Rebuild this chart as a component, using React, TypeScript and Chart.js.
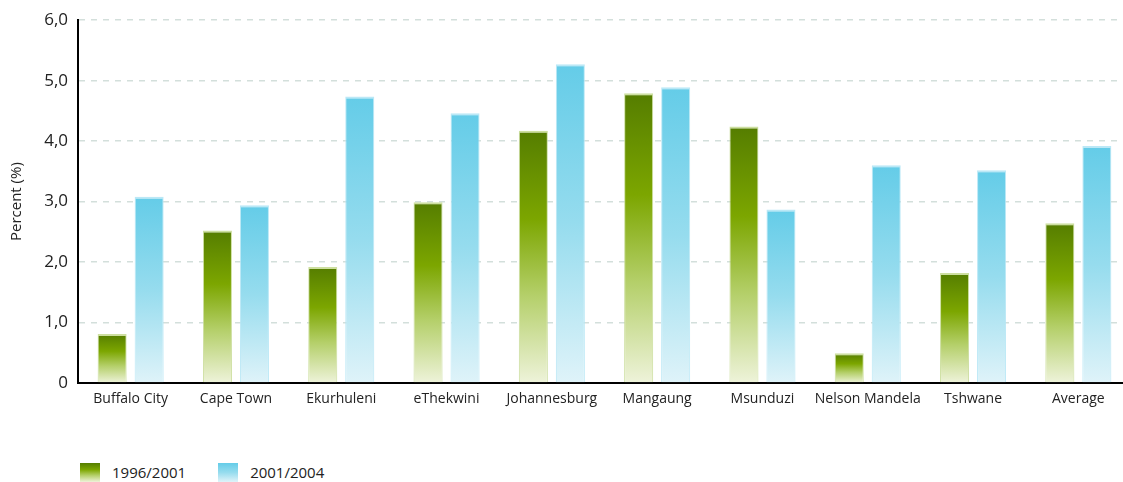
import React, { useEffect, useRef } from "react";
import { Chart, registerables } from "chart.js";

Chart.register(...registerables);

const categories = [
  "Buffalo City",
  "Cape Town",
  "Ekurhuleni",
  "eThekwini",
  "Johannesburg",
  "Mangaung",
  "Msunduzi",
  "Nelson Mandela",
  "Tshwane",
  "Average",
];
const series1996 = [0.81, 2.52, 1.92, 2.99, 4.17, 4.79, 4.24, 0.49, 1.82, 2.64];
const series2001 = [3.08, 2.94, 4.74, 4.46, 5.27, 4.89, 2.87, 3.6, 3.52, 3.92];
const seriesLabels = ["1996/2001", "2001/2004"];
const yTicks = [0, 1, 2, 3, 4, 5, 6];

const FONT = "'Open Sans', 'Noto Sans', sans-serif";

const greenStops: [number, string][] = [
  [0, "#557d00"],
  [0.35, "#7ca600"],
  [0.65, "#b4cf69"],
  [1, "#eef3da"],
];
const blueStops: [number, string][] = [
  [0, "#64cce8"],
  [0.5, "#96dcee"],
  [1, "#dff3f9"],
];

function gradientFor(stops: [number, string][]) {
  return (ctx: any) => {
    const chart = ctx.chart;
    const y = chart.scales?.y;
    if (!y || ctx.raw === undefined || !chart.chartArea) return stops[0][1];
    const top = y.getPixelForValue(ctx.raw);
    const bottom = y.getPixelForValue(0);
    if (!isFinite(top) || !isFinite(bottom) || top === bottom) return stops[0][1];
    const g = chart.ctx.createLinearGradient(0, top, 0, bottom);
    stops.forEach(([o, c]) => g.addColorStop(o, c));
    return g;
  };
}

function cssGradient(stops: [number, string][]) {
  return `linear-gradient(to bottom, ${stops.map(([o, c]) => `${c} ${o * 100}%`).join(", ")})`;
}

export default function App() {
  const canvasRef = useRef<HTMLCanvasElement | null>(null);

  useEffect(() => {
    if (!canvasRef.current) return;
    const chart = new Chart(canvasRef.current, {
      type: "bar",
      data: {
        labels: categories,
        datasets: [
          {
            label: seriesLabels[0],
            data: series1996,
            backgroundColor: gradientFor(greenStops),
            borderColor: "rgba(200,220,150,0.9)",
            borderWidth: { top: 2, left: 1, right: 1, bottom: 0 },
            barPercentage: 0.784,
            categoryPercentage: 0.703,
          },
          {
            label: seriesLabels[1],
            data: series2001,
            backgroundColor: gradientFor(blueStops),
            borderColor: "rgba(180,230,245,0.9)",
            borderWidth: { top: 2, left: 1, right: 1, bottom: 0 },
            barPercentage: 0.784,
            categoryPercentage: 0.703,
          },
        ],
      },
      options: {
        animation: false,
        responsive: true,
        maintainAspectRatio: false,
        layout: { padding: { top: 20, left: 0, right: 0, bottom: 0 } },
        plugins: {
          legend: { display: false },
          tooltip: { enabled: false },
        },
        scales: {
          x: {
            grid: { display: false, drawTicks: false },
            border: { display: true, color: "#000", width: 2 },
            ticks: {
              color: "#222",
              font: { family: FONT, size: 14 },
              padding: 8,
              maxRotation: 0,
              autoSkip: false,
            },
            afterFit: (scale: any) => {
              scale.height = 47;
            },
          },
          y: {
            min: 0,
            max: 6,
            afterBuildTicks: (scale: any) => {
              scale.ticks = yTicks.map((v) => ({ value: v }));
            },
            ticks: {
              color: "#222",
              font: { family: FONT, size: 17 },
              padding: 10,
              callback: (v: any) => (Number(v) === 0 ? "0" : Number(v).toFixed(1).replace(".", ",")),
            },
            grid: {
              drawTicks: false,
              color: (ctx: any) => (ctx.tick && ctx.tick.value === 0 ? "rgba(0,0,0,0)" : "#d3dfdb"),
              lineWidth: 1.5,
            },
            border: { display: true, color: "#000", width: 2, dash: [6, 6] },
            title: {
              display: true,
              text: "Percent (%)",
              color: "#222",
              font: { family: FONT, size: 15 },
              padding: { top: 8, bottom: 0 },
            },
            afterFit: (scale: any) => {
              scale.width = 78;
            },
          },
        },
      },
    });
    return () => chart.destroy();
  }, []);

  const legendItem = (label: string, stops: [number, string][]) => (
    <div style={{ display: "flex", alignItems: "center", marginRight: 32 }}>
      <div style={{ width: 20, height: 19, background: cssGradient(stops), marginRight: 12 }} />
      <span style={{ fontFamily: FONT, fontSize: 15, color: "#222" }}>{label}</span>
    </div>
  );

  return (
    <div style={{ position: "fixed", left: 0, top: 0, width: 1131, height: 482, background: "#fff" }}>
      <div style={{ position: "absolute", left: 0, top: 0, width: 1131, height: 430 }}>
        <canvas ref={canvasRef} />
      </div>
      <div style={{ position: "absolute", left: 80, top: 462, display: "flex" }}>
        {legendItem(seriesLabels[0], greenStops)}
        {legendItem(seriesLabels[1], blueStops)}
      </div>
    </div>
  );
}
